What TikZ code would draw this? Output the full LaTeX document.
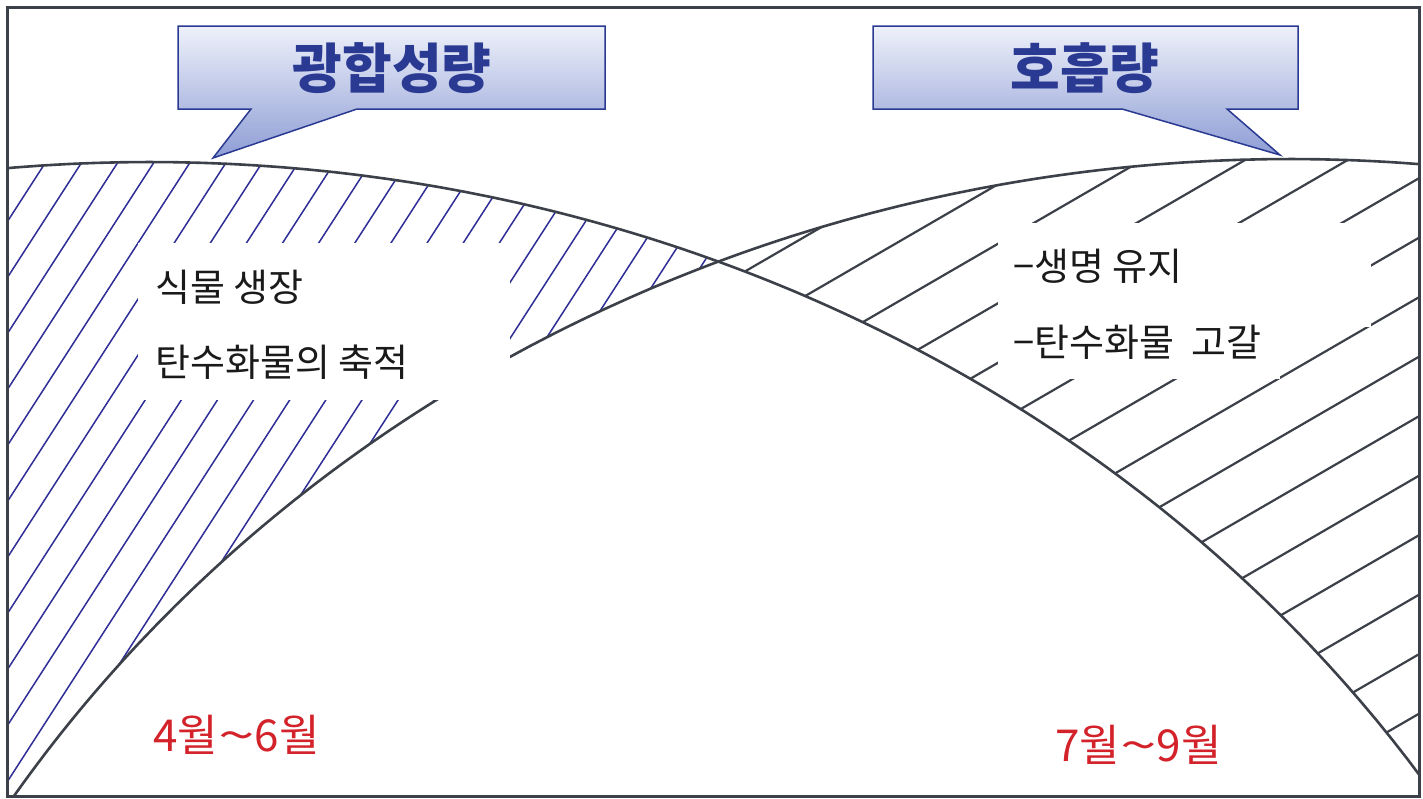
\documentclass[tikz,border=0pt]{standalone}
\usepackage{fontspec}
\newfontfamily\kr{Noto Sans CJK KR}
\definecolor{hatchblue}{HTML}{2E2E96}
\definecolor{ink}{HTML}{3C4049}
\definecolor{navy}{HTML}{2A3A92}
\definecolor{calltop}{HTML}{EEF1FA}
\definecolor{callbot}{HTML}{8E9DD5}
\definecolor{monthred}{HTML}{D3222A}
\definecolor{bodytext}{HTML}{1A1A1A}
\begin{document}
\begin{tikzpicture}[x=1pt,y=-1pt,
  curve/.style={draw=ink, line width=2.6pt},
  bluehatch/.style={draw=hatchblue, line width=1.5pt},
  grayhatch/.style={draw=ink, line width=2.2pt},
  callout/.style={top color=calltop, bottom color=callbot},
  calloutline/.style={draw=navy, line width=1.5pt, line join=miter},
  title/.style={font=\kr\bfseries\fontsize{54}{64}\selectfont, text=navy, inner sep=0pt},
  body/.style={font=\kr\fontsize{38}{44}\selectfont, text=bodytext, anchor=west, inner sep=0pt},
  month/.style={font=\kr\fontsize{44}{52}\selectfont, text=monthred, anchor=west, inner sep=0pt},
  textbox/.style={fill=white}]
\useasboundingbox (0,0) rectangle (1423,798);
\fill[white] (0,0) rectangle (1423,798);

% left hatched region (photosynthesis surplus)
\begin{scope}
  \clip (7,7) rectangle (1419,796);
  \clip plot[domain=97:68.28,samples=80] ({150+1535*cos(\x)},{1562-1400*sin(\x)})
     -- plot[domain=112.07:150,samples=60] ({1290+1522*cos(\x)},{1559-1400*sin(\x)})
     -- (-40,870) -- (-40,150) -- cycle;
  \foreach \k in {-1,...,21}
    \draw[bluehatch] (0,{233+56*\k}) -- (800,{-1007+56*\k});
\end{scope}

% right hatched region (respiration surplus)
\begin{scope}
  \clip (7,7) rectangle (1419,796);
  \clip plot[domain=112.07:75,samples=60] ({1290+1522*cos(\x)},{1559-1400*sin(\x)})
     -- (1750,207) -- (1750,1100)
     -- plot[domain=20:68.28,samples=80] ({150+1535*cos(\x)},{1562-1400*sin(\x)}) -- cycle;
  \foreach \k in {-6,...,11}
    \draw[grayhatch] (700,{595+59.5*\k}) -- (1440,{166+59.5*\k});
\end{scope}

% the two curves
\begin{scope}
  \clip (7,7) rectangle (1419,796);
  \draw[curve] plot[domain=97:28,samples=140] ({150+1535*cos(\x)},{1562-1400*sin(\x)});
  \draw[curve] plot[domain=78:150,samples=140] ({1290+1522*cos(\x)},{1559-1400*sin(\x)});
\end{scope}

% frame
\draw[ink, line width=3pt] (7,7) rectangle (1419,796);

% white text boxes
\fill[textbox] (138,243) rectangle (510,400);
\fill[textbox] (998,223) rectangle (1371,327);
\fill[textbox] (998,223) rectangle (1280,379);

\node[body] (grow) at (155,287) {식물 생장};
\node[body] (accum) at (155,362) {탄수화물의 축적};
\node[body] (life) at (1013,266) {−생명 유지};
\node[body] (exhaust) at (1013,342) {−탄수화물\ \ 고갈};

% callouts
\shade[callout] (178,26) -- (605,26) -- (605,109) -- (357,109) -- (213,158) -- (251,109) -- (178,109) -- cycle;
\draw[calloutline] (178,26) -- (605,26) -- (605,109) -- (357,109) -- (213,158) -- (251,109) -- (178,109) -- cycle;
\node[title] (photo) at (392,68) {광합성량};

\shade[callout] (873,26) -- (1298,26) -- (1298,109) -- (1227,109) -- (1280,155) -- (1122,109) -- (873,109) -- cycle;
\draw[calloutline] (873,26) -- (1298,26) -- (1298,109) -- (1227,109) -- (1280,155) -- (1122,109) -- (873,109) -- cycle;
\node[title] (resp) at (1085,68) {호흡량};

% month labels
\node[month] (spring) at (153,735) {4월\scalebox{1.5}[1]{\textasciitilde}6월};
\node[month] (summer) at (1055,745) {7월\scalebox{1.5}[1]{\textasciitilde}9월};
\end{tikzpicture}
\end{document}
